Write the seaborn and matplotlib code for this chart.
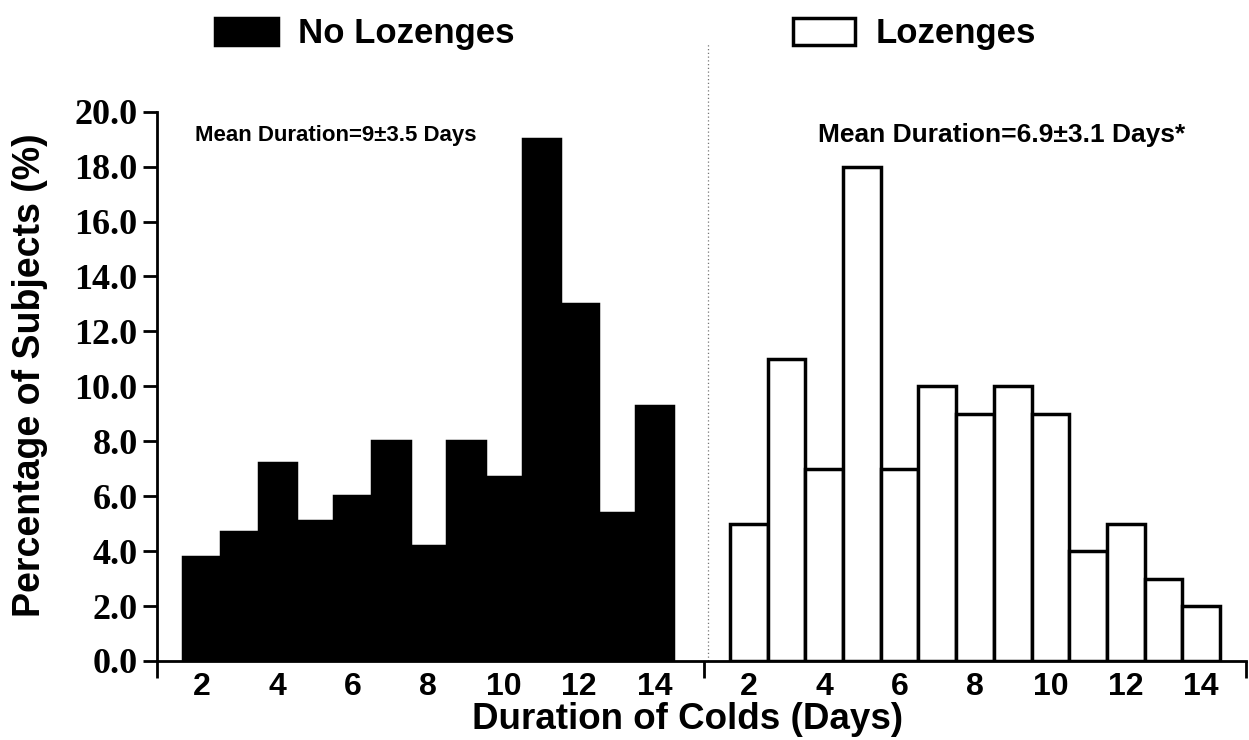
import pandas as pd
import seaborn as sns
import matplotlib.pyplot as plt
from matplotlib.patches import Patch
from matplotlib.ticker import FixedLocator

# data (percentage of subjects per cold duration)
days = [2, 3, 4, 5, 6, 7, 8, 9, 10, 11, 12, 13, 14]
no_lozenges = [3.8, 4.7, 7.2, 5.1, 6.0, 8.0, 4.2, 8.0, 6.7, 19.0, 13.0, 5.4, 9.3]
lozenges = [5.0, 11.0, 7.0, 18.0, 7.0, 10.0, 9.0, 10.0, 9.0, 4.0, 5.0, 3.0, 2.0]
tick_days = [2, 4, 6, 8, 10, 12, 14]
groups = ["No Lozenges", "Lozenges"]
mean_texts = ["Mean Duration=9\u00b13.5 Days", "Mean Duration=6.9\u00b13.1 Days*"]

# second panel is drawn on the same axis, shifted to the right
shift = 14.5


def build_frame():
    rows = []
    for d, v in zip(days, no_lozenges):
        rows.append({"pos": d - 2, "pct": v, "group": groups[0]})
    for d, v in zip(days, lozenges):
        rows.append({"pos": d - 2 + shift, "pct": v, "group": groups[1]})
    return pd.DataFrame(rows)


def main():
    data = build_frame()
    sns.set_style("ticks", {"text.color": "black", "axes.labelcolor": "black",
                            "axes.edgecolor": "black", "xtick.color": "black",
                            "ytick.color": "black"})

    fig = plt.figure(figsize=(12.49, 7.40), dpi=100)
    ax = fig.add_axes([0.1257, 0.1068, 0.8719, 0.7423])

    sns.barplot(data=data, x="pos", y="pct", hue="group", native_scale=True,
                dodge=False, width=1.0, palette={groups[0]: "black", groups[1]: "white"},
                edgecolor="black", linewidth=2.5, legend=False, ax=ax)

    ax.set_xlim(-1.2, 27.69)
    ax.set_ylim(0, 20)
    sns.despine(ax=ax)
    for side in ["left", "bottom"]:
        ax.spines[side].set_linewidth(2)

    # y axis: serif numbers like the original
    yt = list(range(0, 21, 2))
    ax.set_yticks(yt)
    ax.set_yticklabels([f"{v:.1f}" for v in yt], family="Liberation Serif",
                       fontweight="bold", fontsize=26)
    ax.tick_params(axis="y", direction="out", length=10, width=2, pad=4)

    # x axis: day labels under each panel, no tick marks
    xt = [d - 2 for d in tick_days] + [d - 2 + shift for d in tick_days]
    ax.set_xticks(xt)
    ax.set_xticklabels([str(d) for d in tick_days] * 2, family="Liberation Sans",
                       fontweight="bold", fontsize=23)
    ax.tick_params(axis="x", which="major", length=0, pad=8)
    ax.xaxis.set_minor_locator(FixedLocator([-1.2, 13.3, 27.69]))
    ax.tick_params(axis="x", which="minor", direction="out", length=12, width=2)

    ax.set_ylabel("Percentage of Subjects (%)", family="Liberation Sans",
                  fontweight="bold", fontsize=27)
    ax.yaxis.set_label_coords(-0.100, 0.52)
    ax.set_xlabel("Duration of Colds (Days)", family="Liberation Sans",
                  fontweight="bold", fontsize=26.5)
    ax.xaxis.set_label_coords(0.4876, -0.074)

    # dotted divider between the two panels
    ax.axvline(13.42, ymin=0, ymax=1.125, color="#777777", lw=0.9,
               linestyle=(0, (1, 2)), clip_on=False)

    fig.text(195 / 1249, 1 - 135 / 740, mean_texts[0], family="Liberation Sans",
             fontweight="bold", fontsize=16, va="center", ha="left")
    fig.text(818 / 1249, 1 - 135 / 740, mean_texts[1], family="Liberation Sans",
             fontweight="bold", fontsize=19, va="center", ha="left")

    handles = [Patch(facecolor="black", edgecolor="black", linewidth=2.5),
               Patch(facecolor="white", edgecolor="black", linewidth=2.5)]
    fig.legend(handles, groups, loc="center left", bbox_to_anchor=(215 / 1249, 1 - 34 / 740),
               ncol=2, frameon=False, handlelength=1.8, handleheight=0.85,
               handletextpad=0.6, columnspacing=8.0, borderpad=0, borderaxespad=0,
               prop={"family": "Liberation Sans", "weight": "bold", "size": 25})

    plt.savefig("out.png", dpi=100)


if __name__ == '__main__':
    main()
